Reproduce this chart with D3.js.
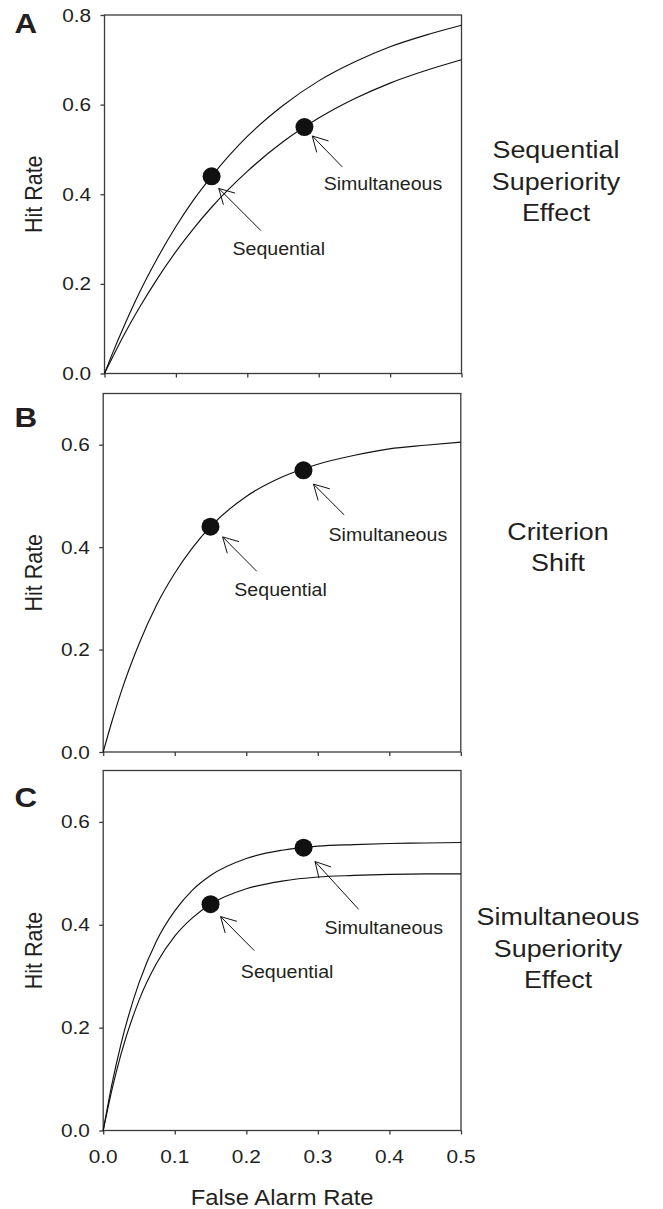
<!DOCTYPE html>
<html>
<head>
<meta charset="utf-8">
<script src="https://cdn.jsdelivr.net/npm/d3@7"></script>
<style>
  html, body { margin: 0; padding: 0; background: #fff; }
  svg { display: block; font-family: "Liberation Sans", Arial, sans-serif; }
</style>
</head>
<body>
<script>
// ---------- data ----------
const falseAlarm = [0, 0.0125, 0.025, 0.05, 0.075, 0.1, 0.125, 0.15, 0.2, 0.25, 0.3, 0.35, 0.4, 0.45, 0.5];
const hitA_upper = [0, 0.050, 0.097, 0.184, 0.260, 0.328, 0.388, 0.440, 0.529, 0.598, 0.653, 0.695, 0.729, 0.755, 0.777];
const hitA_lower = [0, 0.040, 0.079, 0.150, 0.214, 0.272, 0.324, 0.371, 0.451, 0.517, 0.570, 0.613, 0.648, 0.676, 0.700];
const hitB       = [0, 0.061, 0.117, 0.211, 0.288, 0.349, 0.399, 0.440, 0.499, 0.537, 0.562, 0.579, 0.592, 0.599, 0.605];
const hitC_upper = [0, 0.092, 0.169, 0.287, 0.370, 0.427, 0.468, 0.496, 0.529, 0.545, 0.553, 0.556, 0.558, 0.559, 0.560];
const hitC_lower = [0, 0.081, 0.149, 0.253, 0.326, 0.378, 0.414, 0.440, 0.470, 0.485, 0.493, 0.496, 0.498, 0.499, 0.499];

const conditions = ["Sequential", "Simultaneous"];
const pointFA  = [0.15, 0.28];
const pointHit = [0.44, 0.55];

const xTicks  = [0, 0.1, 0.2, 0.3, 0.4, 0.5];
const yTicksA = [0, 0.2, 0.4, 0.6, 0.8];
const yTicksBC = [0, 0.2, 0.4, 0.6];

const panelLetters = ["A", "B", "C"];
const panelTitles = [["Sequential", "Superiority", "Effect"], ["Criterion", "Shift"], ["Simultaneous", "Superiority", "Effect"]];
const xTitle = "False Alarm Rate";
const yTitle = "Hit Rate";

// ---------- layout ----------
const W = 663, H = 1209, SX = 1.12;
const TEXT = "#231f20", FRAME = "#3a3a3a", INK = "#111";

const panels = [
  { left: 104.5, right: 461.5, top: 15,    bottom: 373.5, yMax: 0.8, yTicks: yTicksA,  curves: [hitA_upper, hitA_lower],
    letterY: 33, titleX: 556, titleY: [157.5, 189.5, 220.5], xLabels: false,
    arrows: [ {head: [0.160, 0.413], tail: [0.219, 0.319], label: [0.244, 0.265]},
              {head: [0.291, 0.530], tail: [0.333, 0.461], label: [0.390, 0.409]} ] },
  { left: 103.2, right: 460.8, top: 393.5, bottom: 752,  yMax: 0.7, yTicks: yTicksBC, curves: [hitB],
    letterY: 427, titleX: 558, titleY: [540, 571], xLabels: false,
    arrows: [ {head: [0.167, 0.420], tail: [0.2146, 0.353], label: [0.248, 0.304]},
              {head: [0.294, 0.523], tail: [0.337, 0.463], label: [0.398, 0.412]} ] },
  { left: 103.2, right: 461,   top: 770.5, bottom: 1130.5, yMax: 0.7, yTicks: yTicksBC, curves: [hitC_upper, hitC_lower],
    letterY: 807, titleX: 558, titleY: [925, 956.5, 988], xLabels: true,
    arrows: [ {head: [0.164, 0.416], tail: [0.211, 0.350], label: [0.257, 0.296]},
              {head: [0.296, 0.523], tail: [0.357, 0.430], label: [0.392, 0.382]} ] }
];

const svg = d3.select("body").append("svg").attr("width", W).attr("height", H);

function stext(parent, x, y, str, size, anchor, weight) {
  return parent.append("text")
    .attr("transform", `translate(${x},${y}) scale(${SX},1)`)
    .attr("text-anchor", anchor || "start")
    .attr("font-size", size)
    .attr("font-weight", weight || "normal")
    .attr("fill", TEXT)
    .text(str);
}

panels.forEach((p, pi) => {
  const g = svg.append("g");
  const x = d3.scaleLinear().domain([0, 0.5]).range([p.left, p.right]);
  const y = d3.scaleLinear().domain([0, p.yMax]).range([p.bottom, p.top]);

  g.append("rect")
    .attr("x", p.left).attr("y", p.top)
    .attr("width", p.right - p.left).attr("height", p.bottom - p.top)
    .attr("fill", "none").attr("stroke", FRAME).attr("stroke-width", 1.3);

  const ay = g.append("g").attr("transform", `translate(${p.left},0)`)
    .call(d3.axisLeft(y).tickValues(p.yTicks).tickSize(4).tickFormat(""));
  const ax = g.append("g").attr("transform", `translate(0,${p.bottom})`)
    .call(d3.axisBottom(x).tickValues(xTicks).tickSize(4).tickFormat(""));
  [ay, ax].forEach(a => {
    a.select(".domain").remove();
    a.selectAll(".tick line").attr("stroke", FRAME).attr("stroke-width", 1.3);
  });

  p.yTicks.forEach(t => stext(g, p.left - 13.3, y(t) + 6.5, d3.format(".1f")(t), 18.6, "end"));
  if (p.xLabels) {
    xTicks.forEach(t => stext(g, x(t), p.bottom + 32, d3.format(".1f")(t), 18.6, "middle"));
    stext(g, (p.left + p.right) / 2, p.bottom + 74.5, xTitle, 21.3, "middle");
  }

  g.append("text")
    .attr("transform", `translate(42,${(p.top + p.bottom) / 2}) scale(${SX},1) rotate(-90)`)
    .attr("text-anchor", "middle").attr("font-size", 21.5).attr("fill", TEXT)
    .text(yTitle);

  stext(g, 14.5, p.letterY, panelLetters[pi], 28, "start", "bold");

  panelTitles[pi].forEach((line, li) => stext(g, p.titleX, p.titleY[li], line, 24, "middle"));

  const line = d3.line().x((d, i) => x(falseAlarm[i])).y(d => y(d)).curve(d3.curveMonotoneX);
  p.curves.forEach(c => {
    g.append("path").attr("d", line(c))
      .attr("fill", "none").attr("stroke", INK).attr("stroke-width", 1.15);
  });

  pointFA.forEach((fa, i) => {
    g.append("circle").attr("cx", x(fa)).attr("cy", y(pointHit[i])).attr("r", 9).attr("fill", INK);
  });

  p.arrows.forEach((a, i) => {
    const hx = x(a.head[0]), hy = y(a.head[1]);
    const tx = x(a.tail[0]), ty = y(a.tail[1]);
    const ang = Math.atan2(ty - hy, tx - hx);
    const bl = 17, spread = 29 * Math.PI / 180;
    g.append("line").attr("x1", tx).attr("y1", ty).attr("x2", hx).attr("y2", hy)
      .attr("stroke", INK).attr("stroke-width", 1);
    [-spread, spread].forEach(s => {
      g.append("line").attr("x1", hx).attr("y1", hy)
        .attr("x2", hx + bl * Math.cos(ang + s)).attr("y2", hy + bl * Math.sin(ang + s))
        .attr("stroke", INK).attr("stroke-width", 1);
    });
    stext(g, x(a.label[0]), y(a.label[1]), conditions[i], 17.5, "middle");
  });
});
</script>
</body>
</html>
